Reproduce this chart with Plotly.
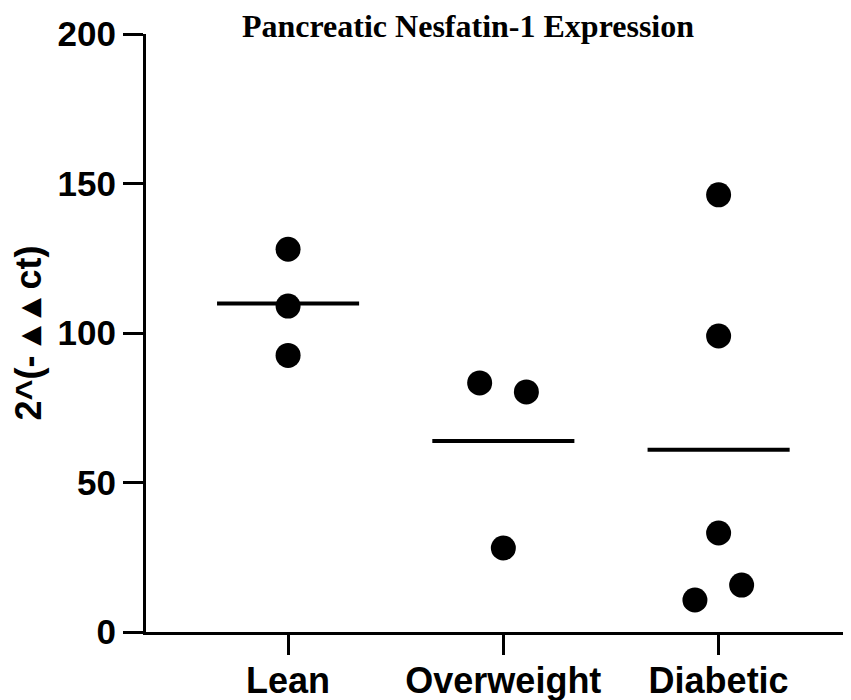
import plotly.graph_objects as go
import numpy as np

categories = ["Lean", "Overweight", "Diabetic"]
lean_values = [128, 109, 92.5]
overweight_values = [83.3, 80.3, 28.1]
diabetic_values = [146.2, 99.0, 33.1, 15.7, 10.7]
y_tick_values = [0, 50, 100, 150, 200]

# horizontal scatter offsets (category units) used to avoid overlapping dots
lean_jitter = [0, 0, 0]
overweight_jitter = [-0.11, 0.107, 0]
diabetic_jitter = [0, 0, 0, 0.107, -0.11]

groups = [lean_values, overweight_values, diabetic_values]
jitters = [lean_jitter, overweight_jitter, diabetic_jitter]

fig = go.Figure()
half = 0.33
for i, (vals, jit) in enumerate(zip(groups, jitters)):
    m = float(np.mean(vals))
    fig.add_trace(go.Scatter(x=[i - half, i + half], y=[m, m], mode="lines",
                             line=dict(color="black", width=4), showlegend=False,
                             hoverinfo="skip", cliponaxis=False))
    fig.add_trace(go.Scatter(x=[i + j for j in jit], y=vals, mode="markers",
                             marker=dict(color="black", size=25, line=dict(width=0)),
                             showlegend=False, cliponaxis=False))

# the page body has an 8px margin, so the figure is 8px smaller than the window
W, H = 843, 692
fig.update_layout(
    width=W, height=H,
    paper_bgcolor="white", plot_bgcolor="white",
    margin=dict(l=138, r=0, t=26, b=68, autoexpand=False),
    title=dict(text="<b>Pancreatic Nesfatin-1 Expression</b>",
               font=dict(family="Liberation Serif", size=32, color="black"),
               x=460/W, xanchor="center", xref="container",
               y=1 - 18/H, yanchor="middle", yref="container"),
    xaxis=dict(range=[-0.66, 2.615], tickmode="array", tickvals=[0, 1, 2],
               ticktext=[f"<b>{c}</b>" for c in categories],
               showgrid=False, zeroline=False, automargin=False,
               showline=True, linecolor="black", linewidth=3,
               ticks="outside", ticklen=20, tickwidth=3, tickcolor="black",
               tickfont=dict(family="Liberation Sans", size=36, color="black"),
               ticklabelstandoff=-5),
    yaxis=dict(range=[0, 200], tickmode="array", tickvals=y_tick_values,
               ticktext=[f"<b>{v}</b>" for v in y_tick_values],
               showgrid=False, zeroline=False, automargin=False,
               showline=True, linecolor="black", linewidth=3,
               ticks="outside", ticklen=20, tickwidth=3, tickcolor="black",
               tickfont=dict(family="Liberation Sans", size=35, color="black"),
               title=dict(text="<b>2^(- ▴ ▴ ct)</b>",
                          font=dict(family="Liberation Sans", size=36, color="black"),
                          standoff=10)),
)
fig.write_html("out.html")
